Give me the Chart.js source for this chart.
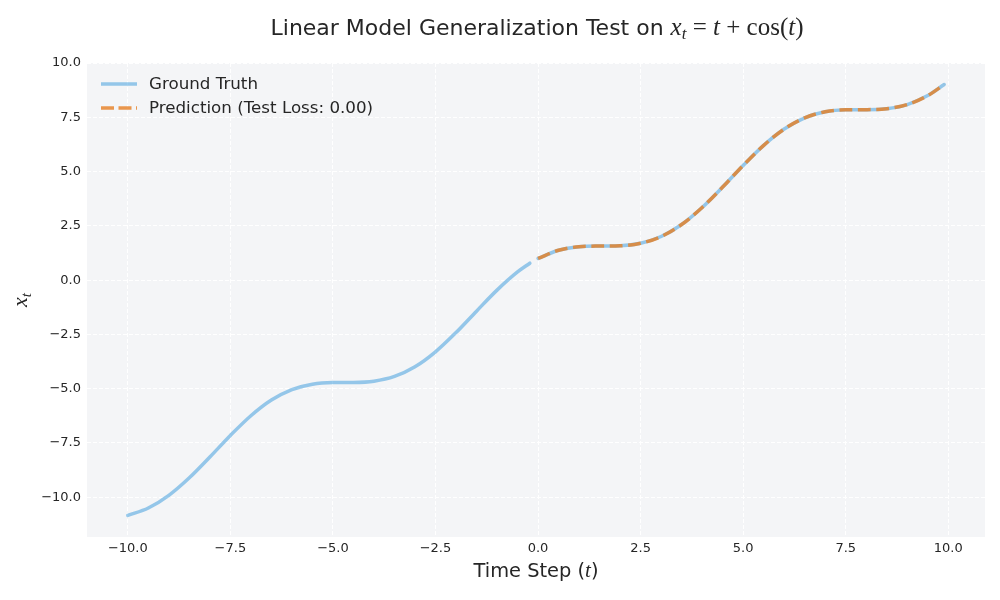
<!DOCTYPE html>
<html>
<head>
<meta charset="utf-8">
<script src="https://cdn.jsdelivr.net/npm/chart.js@4.4.1/dist/chart.umd.min.js"></script>
<style>
  html, body { margin: 0; padding: 0; background: #ffffff; }
  #wrap { width: 1000px; height: 600px; }
</style>
</head>
<body>
<div id="wrap"><canvas id="c" width="1000" height="600"></canvas></div>
<script>
// ---- data ----
const trainT = [-10, -9.5, -9, -8.5, -8, -7.5, -7, -6.5, -6, -5.5, -5, -4.5, -4, -3.5, -3, -2.5, -2, -1.5, -1, -0.5, -0.2];
const trainX = [-10.839, -10.497, -9.911, -9.102, -8.146, -7.153, -6.246, -5.523, -5.040, -4.791, -4.716, -4.711, -4.654, -4.437, -3.990, -3.301, -2.416, -1.429, -0.460, 0.378, 0.780];
const testT = [0, 0.5, 1, 1.5, 2, 2.5, 3, 3.5, 4, 4.5, 5, 5.5, 6, 6.5, 7, 7.5, 8, 8.5, 9, 9.5, 9.9];
const testX = [1.000, 1.378, 1.540, 1.571, 1.584, 1.699, 2.010, 2.563, 3.346, 4.289, 5.284, 6.209, 6.960, 7.477, 7.754, 7.847, 7.854, 7.898, 8.089, 8.503, 9.011];
const predX = [1.000, 1.378, 1.540, 1.571, 1.584, 1.699, 2.010, 2.563, 3.346, 4.289, 5.284, 6.209, 6.960, 7.477, 7.754, 7.847, 7.854, 7.898, 8.089, 8.503, 9.011];
const xTicks = [-10, -7.5, -5, -2.5, 0, 2.5, 5, 7.5, 10];
const yTicks = [-10, -7.5, -5, -2.5, 0, 2.5, 5, 7.5, 10];
const xLimits = [-10.995, 10.895];
const yLimits = [-11.832, 10.003];
const seriesLabels = ['Ground Truth', 'Prediction (Test Loss: 0.00)'];

const BLUE = 'rgba(52,152,219,0.5)';
const ORANGE = 'rgba(230,126,34,0.8)';
const TEXT = '#262626';
const SANS = '"DejaVu Sans", "Liberation Sans", sans-serif';
const SERIF = '"Liberation Serif", "DejaVu Serif", serif';

const pts = (xs, ys) => xs.map((x, i) => ({ x: x, y: ys[i] }));
const fmt = v => {
  const s = Math.abs(v).toFixed(1);
  return (v < 0 ? '\u2212' : '') + s;
};

function drawSegs(ctx, segs, x, y, align) {
  let total = 0;
  segs.forEach(s => { ctx.font = s.font; s.w = ctx.measureText(s.text).width; total += s.w; });
  let cx = align === 'center' ? x - total / 2 : x;
  ctx.textAlign = 'left';
  ctx.textBaseline = 'alphabetic';
  segs.forEach(s => {
    ctx.font = s.font;
    ctx.fillText(s.text, cx, y + (s.dy || 0));
    cx += s.w;
  });
}

const decor = {
  id: 'decor',
  beforeDraw(chart) {
    const { ctx, chartArea: a } = chart;
    ctx.save();
    ctx.fillStyle = '#f4f5f7';
    ctx.fillRect(a.left, a.top, a.right - a.left, a.bottom - a.top);
    ctx.restore();
  },
  afterDraw(chart) {
    const { ctx, chartArea: a } = chart;
    const cx = (a.left + a.right) / 2;
    const cy = (a.top + a.bottom) / 2;
    ctx.save();
    ctx.fillStyle = TEXT;
    // title
    drawSegs(ctx, [
      { text: 'Linear Model Generalization Test on ', font: '22px ' + SANS },
      { text: 'x', font: 'italic 25px ' + SERIF },
      { text: 't', font: 'italic 17px ' + SERIF, dy: 4 },
      { text: ' = ', font: '25px ' + SERIF },
      { text: 't', font: 'italic 25px ' + SERIF },
      { text: ' + ', font: '25px ' + SERIF },
      { text: 'cos(', font: '25px ' + SERIF },
      { text: 't', font: 'italic 25px ' + SERIF },
      { text: ')', font: '25px ' + SERIF }
    ], cx + 1, 35, 'center');
    // x label
    drawSegs(ctx, [
      { text: 'Time Step (', font: '19.4px ' + SANS },
      { text: 't', font: 'italic 21px ' + SERIF },
      { text: ')', font: '19.4px ' + SANS }
    ], cx, 577, 'center');
    // y label
    ctx.save();
    ctx.translate(27, cy);
    ctx.rotate(-Math.PI / 2);
    drawSegs(ctx, [
      { text: 'x', font: 'italic 22px ' + SERIF },
      { text: 't', font: 'italic 15px ' + SERIF, dy: 4 }
    ], 0, 0, 'center');
    ctx.restore();
    // legend
    const items = [
      { label: seriesLabels[0], color: BLUE, dash: [] },
      { label: seriesLabels[1], color: ORANGE, dash: [13, 4.5] }
    ];
    items.forEach((it, i) => {
      const y = 84 + i * 24;
      ctx.save();
      ctx.strokeStyle = it.color;
      ctx.lineWidth = 3.5;
      ctx.setLineDash(it.dash);
      ctx.lineCap = 'butt';
      ctx.beginPath();
      ctx.moveTo(101, y);
      ctx.lineTo(137, y);
      ctx.stroke();
      ctx.restore();
      ctx.font = '16.7px ' + SANS;
      ctx.textAlign = 'left';
      ctx.textBaseline = 'middle';
      ctx.fillStyle = TEXT;
      ctx.fillText(it.label, 149, y + 1);
    });
    ctx.restore();
  }
};

const gridCommon = {
  color: '#ffffff',
  lineWidth: 1,
  drawTicks: false
};

new Chart(document.getElementById('c'), {
  type: 'line',
  data: {
    datasets: [
      {
        label: seriesLabels[0],
        data: pts(trainT, trainX),
        borderColor: BLUE,
        borderWidth: 3.5,
        borderCapStyle: 'round',
        pointRadius: 0,
        cubicInterpolationMode: 'monotone',
        fill: false,
        order: 2
      },
      {
        label: seriesLabels[0] + ' (test)',
        data: pts(testT, testX),
        borderColor: BLUE,
        borderWidth: 3.5,
        borderCapStyle: 'round',
        pointRadius: 0,
        cubicInterpolationMode: 'monotone',
        fill: false,
        order: 2
      },
      {
        label: seriesLabels[1],
        data: pts(testT, predX),
        borderColor: ORANGE,
        borderWidth: 3.5,
        borderDash: [12.8, 5.6],
        borderCapStyle: 'butt',
        pointRadius: 0,
        cubicInterpolationMode: 'monotone',
        fill: false,
        order: 1
      }
    ]
  },
  options: {
    responsive: false,
    animation: false,
    devicePixelRatio: 1,
    layout: { padding: { top: 63, right: 15, left: 0, bottom: 0 } },
    plugins: {
      legend: { display: false },
      title: { display: false },
      tooltip: { enabled: false }
    },
    scales: {
      x: {
        type: 'linear',
        min: xLimits[0],
        max: xLimits[1],
        afterBuildTicks: s => { s.ticks = xTicks.map(v => ({ value: v })); },
        afterFit: s => { s.height = 63; },
        grid: gridCommon,
        border: { display: false, dash: [4, 2] },
        ticks: {
          padding: 4,
          color: TEXT,
          font: { family: SANS, size: 13 },
          maxRotation: 0,
          autoSkip: false,
          callback: v => fmt(v)
        }
      },
      y: {
        type: 'linear',
        min: yLimits[0],
        max: yLimits[1],
        afterBuildTicks: s => { s.ticks = yTicks.map(v => ({ value: v })); },
        afterFit: s => { s.width = 87; },
        grid: gridCommon,
        border: { display: false, dash: [4, 2] },
        ticks: {
          padding: 6,
          color: TEXT,
          font: { family: SANS, size: 13 },
          autoSkip: false,
          callback: v => fmt(v)
        }
      }
    }
  },
  plugins: [decor]
});
</script>
</body>
</html>
